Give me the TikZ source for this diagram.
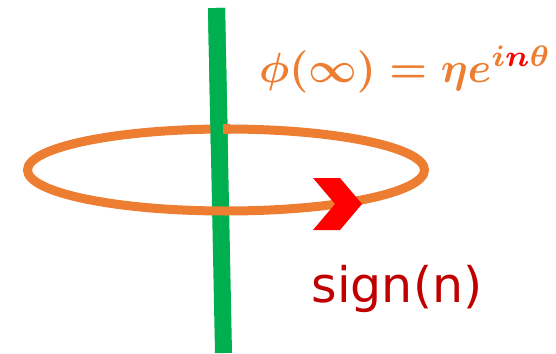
\documentclass[tikz,border=0pt]{standalone}
\usepackage{graphicx}
\usepackage{fontspec}
\usetikzlibrary{calc}
\newfontfamily\labelfont{DejaVu Sans}
\definecolor{ringorange}{HTML}{ED7D31}
\definecolor{axisgreen}{HTML}{00B050}
\definecolor{chevred}{HTML}{FF0000}
\definecolor{darkred}{HTML}{C00000}
\newsavebox\phibox
\begin{document}
\sbox\phibox{\resizebox{292pt}{!}{\boldmath\color{ringorange}$\phi(\infty)=\eta e^{i\textcolor{chevred}{n}\theta}$}}%
\begin{tikzpicture}[x=1pt,y=-1pt,
  ring/.style={draw=ringorange,line width=9pt},
  axis/.style={draw=axisgreen,line width=17pt}]
\useasboundingbox (0,0) rectangle (556,353);
\coordinate (atop) at (216.5,8);
\coordinate (abot) at (223.5,353);
\coordinate (amid) at ($(atop)!0.4!(abot)$);
\path[axis] (atop) -- (abot);
\coordinate (c) at (226,170);
\path[ring] (c) ellipse [x radius=198.5pt,y radius=41pt];
\path[axis] (atop) -- (amid);
\fill[ringorange] (223,124) rectangle (229.5,134);
\fill[chevred] (313,178) -- (340,178) -- (362,204) -- (340,230) -- (313,230) -- (335,204) -- cycle;
\node[inner sep=0pt,anchor=base west] (formula) at (259,82) {\usebox\phibox};
\node[text=darkred,inner sep=0pt,anchor=base] (sgn) at (397,302) {\labelfont\fontsize{49}{58}\selectfont sign(n)};
\end{tikzpicture}
\end{document}
